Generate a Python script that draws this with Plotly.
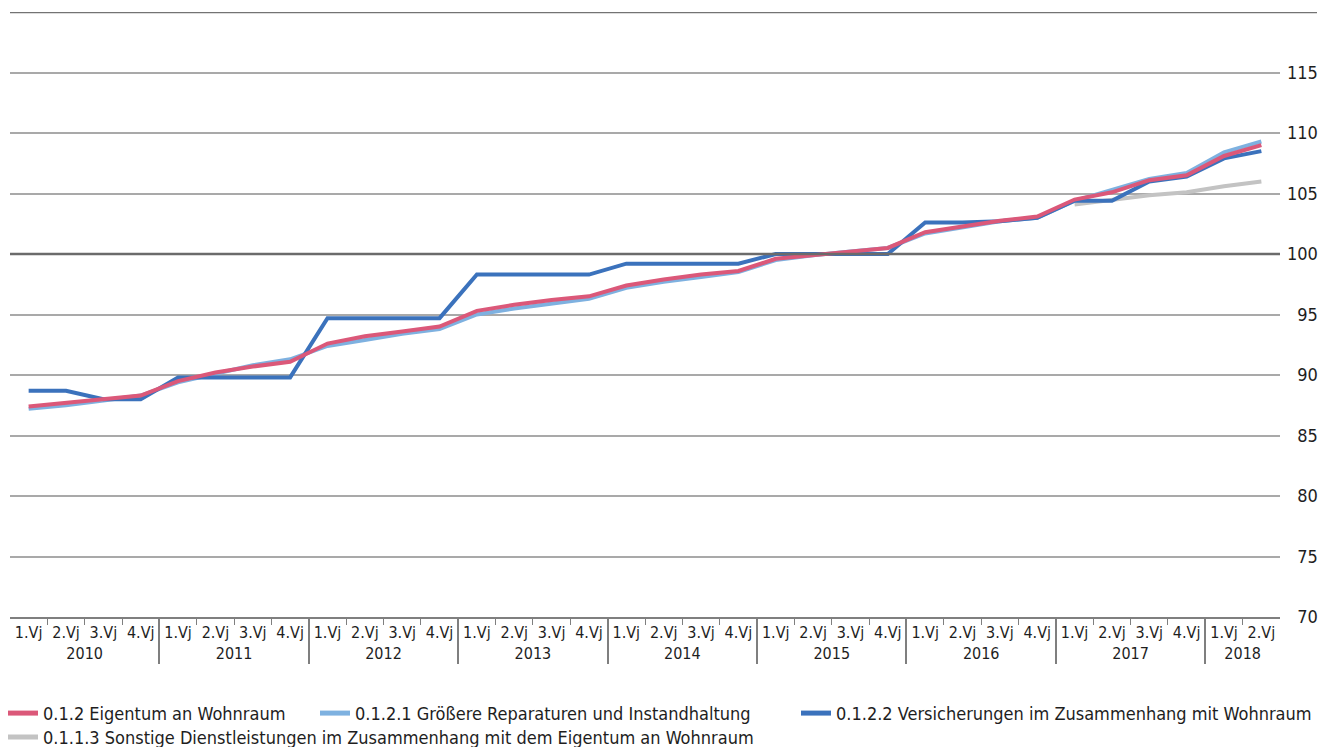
import plotly.graph_objects as go

# Quarters 2010 Q1 .. 2018 Q2
years = ["2010"] * 4 + ["2011"] * 4 + ["2012"] * 4 + ["2013"] * 4 + ["2014"] * 4 \
    + ["2015"] * 4 + ["2016"] * 4 + ["2017"] * 4 + ["2018"] * 2
quarters = ["1.Vj", "2.Vj", "3.Vj", "4.Vj"] * 8 + ["1.Vj", "2.Vj"]

eigentum = [87.4, 87.7, 88.0, 88.3,
            89.5, 90.2, 90.7, 91.1,
            92.6, 93.2, 93.6, 94.0,
            95.3, 95.8, 96.2, 96.5,
            97.4, 97.9, 98.3, 98.6,
            99.6, 99.9, 100.2, 100.5,
            101.8, 102.3, 102.75, 103.1,
            104.5, 105.1, 106.1, 106.5,
            108.1, 109.0]

reparaturen = [87.2, 87.5, 87.9, 88.3,
               89.4, 90.1, 90.8, 91.3,
               92.4, 92.9, 93.4, 93.8,
               95.0, 95.5, 95.9, 96.3,
               97.2, 97.7, 98.1, 98.5,
               99.5, 99.9, 100.2, 100.5,
               101.7, 102.2, 102.7, 103.0,
               104.4, 105.3, 106.2, 106.7,
               108.4, 109.3]

versicherungen = [88.7, 88.7, 88.0, 88.0,
                  89.8, 89.8, 89.8, 89.8,
                  94.7, 94.7, 94.7, 94.7,
                  98.3, 98.3, 98.3, 98.3,
                  99.2, 99.2, 99.2, 99.2,
                  100.0, 100.0, 100.0, 100.0,
                  102.6, 102.6, 102.7, 103.0,
                  104.4, 104.4, 106.0, 106.4,
                  107.9, 108.5]

sonstige = [None] * 28 + [104.1, 104.45, 104.85, 105.1, 105.6, 106.0]

y_ticks = [70, 75, 80, 85, 90, 95, 100, 105, 110, 115]
y_labels = [("\u2007" + str(v)) if v < 100 else str(v) for v in y_ticks]

FONT = "Liberation Sans Narrow, DejaVu Sans Condensed, Arial Narrow, sans-serif"
TEXT = "#1E1E1E"
x = [years, quarters]

fig = go.Figure()
fig.add_trace(go.Scatter(x=x, y=sonstige, mode="lines", showlegend=False,
                         line=dict(color="#C3C3C3", width=4)))
fig.add_trace(go.Scatter(x=x, y=reparaturen, mode="lines", showlegend=False,
                         line=dict(color="#7EB1E0", width=4)))
fig.add_trace(go.Scatter(x=x, y=versicherungen, mode="lines", showlegend=False,
                         line=dict(color="#3B72BC", width=4)))
fig.add_trace(go.Scatter(x=x, y=eigentum, mode="lines", showlegend=False,
                         line=dict(color="#DB5879", width=4)))

# Legend entries: three on the first row, one on the second
legend_items = [
    ("0.1.2 Eigentum an Wohnraum", "#DB5879", "legend", 3 / 1319, 0.045),
    ("0.1.2.1 Größere Reparaturen und Instandhaltung", "#7EB1E0", "legend2", 315 / 1319, 0.045),
    ("0.1.2.2 Versicherungen im Zusammenhang mit Wohnraum", "#3B72BC", "legend3", 796 / 1319, 0.045),
    ("0.1.1.3 Sonstige Dienstleistungen im Zusammenhang mit dem Eigentum an Wohnraum",
     "#C3C3C3", "legend4", 3 / 1319, 0.013),
]
legend_layout = {}
for name, col, lg, lx, ly in legend_items:
    fig.add_trace(go.Scatter(x=[x[0][:1], x[1][:1]], y=[None], mode="lines", name=name,
                             legend=lg, line=dict(color=col, width=5)))
    legend_layout[lg] = dict(orientation="h", xref="container", yref="container",
                             x=lx, xanchor="left", y=ly, yanchor="middle",
                             font=dict(size=18, color=TEXT), itemwidth=30,
                             bgcolor="rgba(0,0,0,0)", borderwidth=0)

fig.update_layout(
    width=1319, height=747,
    margin=dict(l=10, r=39, t=12, b=130, autoexpand=False),
    paper_bgcolor="white", plot_bgcolor="white",
    font=dict(family=FONT, size=18, color=TEXT),
    showlegend=True,
    **legend_layout,
)
fig.update_xaxes(
    type="multicategory",
    range=[-0.499, 33.499], automargin=False,
    showgrid=False,
    showline=True, linecolor="#7F7F7F", linewidth=2,
    ticks="outside", tickson="boundaries", ticklen=6, tickcolor="#7F7F7F",
    showdividers=True, dividercolor="#7F7F7F", dividerwidth=1.5,
    tickangle=0,
    tickfont=dict(size=16, color=TEXT),
)
fig.update_yaxes(
    range=[70, 120], side="right", automargin=False,
    tickmode="array", tickvals=y_ticks, ticktext=y_labels,
    showgrid=True, gridcolor="#A9A9A9", gridwidth=1.5,
    zeroline=False, showline=False, ticks="",
    ticklabelstandoff=6,
    tickfont=dict(size=18, color=TEXT),
)

# Reference line at 100 and the top rule
fig.add_shape(type="line", xref="paper", yref="y", x0=0, x1=1, y0=100, y1=100,
              line=dict(color="#6B6B6B", width=2.5))
fig.add_shape(type="line", xref="paper", yref="y", x0=0, x1=(1317 - 10) / 1270,
              y0=120, y1=120, line=dict(color="#737373", width=2.5))

fig.write_html("out.html")
